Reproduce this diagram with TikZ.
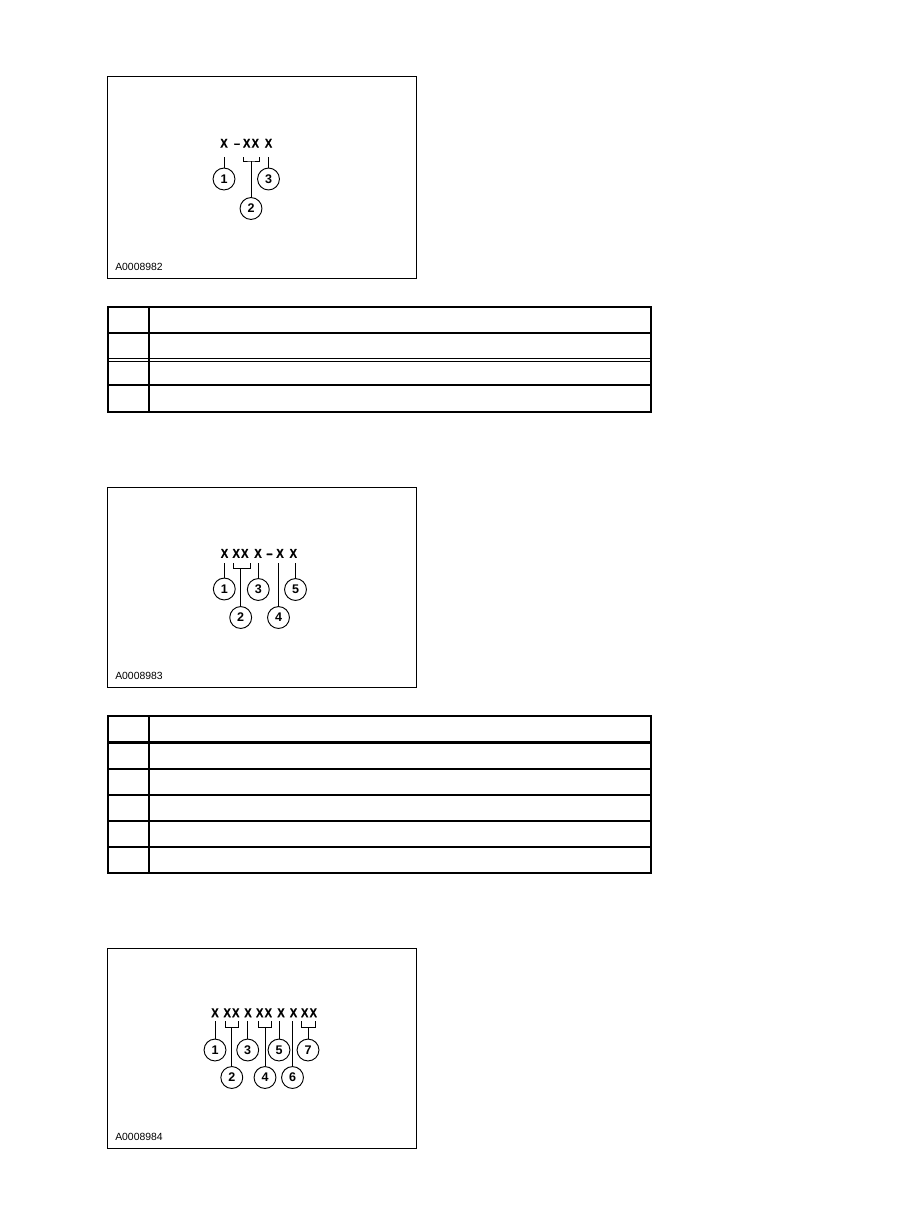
\documentclass[tikz,border=0pt]{standalone}
\usepackage{fontspec}
\setmainfont{Liberation Sans}
\newfontfamily\codefont[FakeStretch=0.86, LetterSpace=10, FakeBold=0.6]{Liberation Sans Bold}
\tikzset{
  figbox/.style={draw, line width=0.75pt},
  tabline/.style={line width=1.8pt},
  thinline/.style={line width=0.75pt},
  codechar/.style={anchor=base, inner sep=0pt, font=\codefont\fontsize{9.6}{11}\selectfont},
  callout/.style={draw, circle, line width=0.7pt, minimum size=16.4pt, inner sep=0pt, font=\fontsize{9.4}{11}\selectfont\bfseries},
  leader/.style={line width=0.7pt},
  artno/.style={anchor=west, inner sep=0pt, font=\fontsize{7.8}{9}\selectfont}
}

\begin{document}
\begin{tikzpicture}[x=0.75pt, y=-0.75pt]
\useasboundingbox (0,0) rectangle (909,1231);

\draw[figbox] (107,77) rectangle (416,278);
\node[codechar] (ax1) at (224,147.6) {X};
\node[codechar] (ad1) at (237,147.6) {–};
\node[codechar] (ax2) at (251,147.6) {XX};
\node[codechar] (ax3) at (268.5,147.6) {X};
\node[callout] (ac1) at (224,179) {1};
\node[callout] (ac2) at (251,208.5) {2};
\node[callout] (ac3) at (268.5,179) {3};
\coordinate (at1) at (224,157);
\coordinate (ab2) at (251,161);
\coordinate (at3) at (268.5,157);
\draw[leader] (at1) -- (ac1);
\draw[leader] (243.5,157) |- (ab2) -| (259.5,157);
\draw[leader] (ab2) -- (ac2);
\draw[leader] (at3) -- (ac3);
\node[artno] (an) at (115,267) {A0008982};

\draw[tabline] (108,307) rectangle (651,412);
\draw[tabline] (108,333) -- (651,333);
\draw[thinline] (108,358.3) -- (651,358.3);
\draw[thinline] (108,361) -- (651,361);
\draw[tabline] (108,385) -- (651,385);
\draw[tabline] (149,307) -- (149,412);

\draw[figbox] (107,487) rectangle (416,687);
\node[codechar] (bx1) at (224.5,557.8) {X};
\node[codechar] (bx2) at (240.5,557.8) {XX};
\node[codechar] (bx3) at (258,557.8) {X};
\node[codechar] (bd1) at (269.5,557.8) {–};
\node[codechar] (bx4) at (280,557.8) {X};
\node[codechar] (bx5) at (293.3,557.8) {X};
\node[callout] (bc1) at (224.3,589) {1};
\node[callout] (bc2) at (240.7,617.5) {2};
\node[callout] (bc3) at (258.3,589.5) {3};
\node[callout] (bc4) at (278.5,617.5) {4};
\node[callout] (bc5) at (295.5,589.5) {5};
\coordinate (bt1) at (224.3,563);
\coordinate (bb2) at (240.7,568.5);
\coordinate (bt3) at (258.3,563);
\coordinate (bt4) at (278.5,563);
\coordinate (bt5) at (295.5,563);
\draw[leader] (bt1) -- (bc1);
\draw[leader] (233,563) |- (bb2) -| (250,563);
\draw[leader] (bb2) -- (bc2);
\draw[leader] (bt3) -- (bc3);
\draw[leader] (bt4) -- (bc4);
\draw[leader] (bt5) -- (bc5);
\node[artno] (bn) at (115,676) {A0008983};

\draw[tabline] (108,716) rectangle (651,873);
\draw[tabline] (108,742.3) -- (651,742.3);
\draw[tabline] (108,769) -- (651,769);
\draw[tabline] (108,795) -- (651,795);
\draw[tabline] (108,820.7) -- (651,820.7);
\draw[tabline] (108,846.7) -- (651,846.7);
\draw[tabline] (149,716) -- (149,873);

\draw[figbox] (107,948) rectangle (416,1148);
\node[codechar] (cx1) at (215,1017.2) {X};
\node[codechar] (cx2) at (231.5,1017.2) {XX};
\node[codechar] (cx3) at (248,1017.2) {X};
\node[codechar] (cx4) at (264,1017.2) {XX};
\node[codechar] (cx5) at (281,1017.2) {X};
\node[codechar] (cx6) at (293.5,1017.2) {X};
\node[codechar] (cx7) at (309,1017.2) {XX};
\node[callout] (cc1) at (215,1050) {1};
\node[callout] (cc2) at (231.8,1077.5) {2};
\node[callout] (cc3) at (247.7,1050) {3};
\node[callout] (cc4) at (265,1077.5) {4};
\node[callout] (cc5) at (279,1050) {5};
\node[callout] (cc6) at (292.5,1077.5) {6};
\node[callout] (cc7) at (308,1050) {7};
\coordinate (ct1) at (215,1021);
\coordinate (cb2) at (231.8,1027);
\coordinate (ct3) at (247.7,1021);
\coordinate (cb4) at (265,1027);
\coordinate (ct5) at (279,1021);
\coordinate (ct6) at (292.5,1021);
\coordinate (cb7) at (308,1027);
\draw[leader] (ct1) -- (cc1);
\draw[leader] (225.5,1021) |- (cb2) -| (238,1021);
\draw[leader] (cb2) -- (cc2);
\draw[leader] (ct3) -- (cc3);
\draw[leader] (258.3,1021) |- (cb4) -| (271.7,1021);
\draw[leader] (cb4) -- (cc4);
\draw[leader] (ct5) -- (cc5);
\draw[leader] (ct6) -- (cc6);
\draw[leader] (301,1021) |- (cb7) -| (315,1021);
\draw[leader] (cb7) -- (cc7);
\node[artno] (cn) at (115,1137) {A0008984};
\end{tikzpicture}
\end{document}
